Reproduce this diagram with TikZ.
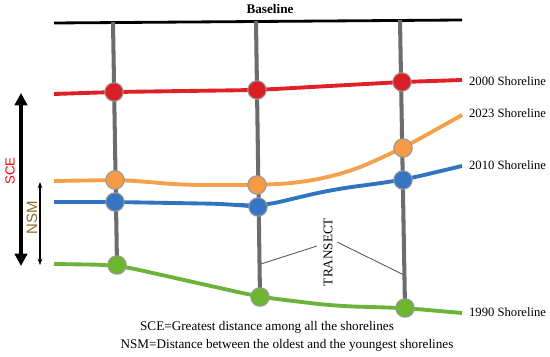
\documentclass[tikz,border=0pt]{standalone}
\usepackage{fontspec}
\setmainfont{Liberation Serif}
\setsansfont{Liberation Sans}
\usepackage{tikz}
\usetikzlibrary{arrows.meta}

\definecolor{shorered}{HTML}{E01F26}
\definecolor{shoreorange}{HTML}{F7A04B}
\definecolor{shoreblue}{HTML}{2F74C0}
\definecolor{shoregreen}{HTML}{6BB33A}
\definecolor{dotred}{HTML}{D91E26}
\definecolor{dotorange}{HTML}{F59B45}
\definecolor{dotblue}{HTML}{3575C4}
\definecolor{dotgreen}{HTML}{6DB42F}
\definecolor{nsmbrown}{HTML}{8C6A2C}

\begin{document}
\begin{tikzpicture}[x=0.02cm, y=-0.02cm,
    transect/.style={draw=gray!85!black, line width=2.3pt},
    shore/.style={line width=2.2pt, rounded corners=12pt},
    sdot/.style={circle, draw=gray!80, line width=0.6pt, minimum size=10.5pt, inner sep=0pt},
    label/.style={anchor=west, inner sep=1pt, font=\fontsize{7.2}{8}\selectfont},
  ]
  \useasboundingbox (0,0) rectangle (550,357);

  % baseline
  \coordinate (b0) at (54,23);
  \coordinate (b1) at (462,20);
  \draw[line width=1.6pt] (b0) -- (b1);
  \node[font=\fontsize{7.5}{8}\selectfont\bfseries] (base) at (270,9) {Baseline};

  % transect tops
  \coordinate (t1) at (113,22);
  \coordinate (t2) at (256,21);
  \coordinate (t3) at (400,20);

  % points on the shorelines
  \coordinate (r1) at (114,92);
  \coordinate (r2) at (257,90);
  \coordinate (r3) at (402,82);
  \coordinate (o1) at (115,180);
  \coordinate (o2) at (257,185);
  \coordinate (o3) at (403,148);
  \coordinate (u1) at (115,202);
  \coordinate (u2) at (258,207);
  \coordinate (u3) at (403,180);
  \coordinate (g1) at (117,265);
  \coordinate (g2) at (260,297);
  \coordinate (g3) at (405,308);

  % transects
  \draw[transect] (t1) -- (g1);
  \draw[transect] (t2) -- (g2);
  \draw[transect] (t3) -- (g3);

  % shorelines
  \coordinate (r0) at (54,94);
  \coordinate (r4) at (462,80);
  \draw[shore, shorered] (r0) -- (r1) -- (r2) -- (r3) -- (r4);

  \coordinate (o0) at (54,181);
  \coordinate (oa) at (140,181);
  \coordinate (ob) at (180,185);
  \coordinate (oc) at (300,183);
  \coordinate (od) at (350,172);
  \coordinate (o4) at (462,115);
  \draw[shore, shoreorange] (o0) -- (o1) -- (oa) -- (ob) -- (o2) -- (oc) -- (od) -- (o3) -- (o4);

  \coordinate (u0) at (54,202);
  \coordinate (ua) at (230,204);
  \coordinate (ub) at (330,190);
  \coordinate (u4) at (462,166);
  \draw[shore, shoreblue] (u0) -- (u1) -- (ua) -- (u2) -- (ub) -- (u3) -- (u4);

  \coordinate (g0) at (54,264);
  \coordinate (ga) at (335,306);
  \coordinate (g4) at (462,313);
  \draw[shore, shoregreen] (g0) -- (g1) -- (g2) -- (ga) -- (g3) -- (g4);

  % dots
  \node[sdot, fill=dotred] (rd1) at (r1) {};
  \node[sdot, fill=dotred] (rd2) at (r2) {};
  \node[sdot, fill=dotred] (rd3) at (r3) {};
  \node[sdot, fill=dotorange] (od1) at (o1) {};
  \node[sdot, fill=dotorange] (od2) at (o2) {};
  \node[sdot, fill=dotorange] (od3) at (o3) {};
  \node[sdot, fill=dotblue] (ud1) at (u1) {};
  \node[sdot, fill=dotblue] (ud2) at (u2) {};
  \node[sdot, fill=dotblue] (ud3) at (u3) {};
  \node[sdot, fill=dotgreen] (gd1) at (g1) {};
  \node[sdot, fill=dotgreen] (gd2) at (g2) {};
  \node[sdot, fill=dotgreen] (gd3) at (g3) {};

  % shoreline labels
  \node[label] (l2000) at (467,81) {2000 Shoreline};
  \node[label] (l2023) at (467,113) {2023 Shoreline};
  \node[label] (l2010) at (467,165) {2010 Shoreline};
  \node[label] (l1990) at (467,312) {1990 Shoreline};

  % SCE and NSM
  \coordinate (sce0) at (21,93);
  \coordinate (sce1) at (21,266);
  \draw[line width=2.4pt, {Triangle[length=7pt,width=7pt]}-{Triangle[length=7pt,width=7pt]}] (sce0) -- (sce1);
  \node[rotate=90, text=red, font=\sffamily\fontsize{7.5}{9}\selectfont] (sce) at (10,171) {SCE};

  \coordinate (nsm0) at (40,182);
  \coordinate (nsm1) at (40,265);
  \draw[line width=0.8pt, {Stealth[length=3.5pt]}-{Stealth[length=3.5pt]}] (nsm0) -- (nsm1);
  \node[rotate=90, text=nsmbrown, font=\sffamily\fontsize{8.5}{9}\selectfont] (nsm) at (32,218) {NSM};

  % transect label
  \node[rotate=90, font=\fontsize{7.5}{8}\selectfont] (tr) at (328,252) {TRANSECT};
  \coordinate (tra) at (317,246);
  \coordinate (trb) at (337,242);
  \coordinate (ta) at (261,264);
  \coordinate (tb) at (404,275);
  \draw[gray!70!black, line width=0.5pt] (tra) -- (ta);
  \draw[gray!70!black, line width=0.5pt] (trb) -- (tb);

  % legend
  \node[font=\fontsize{7.5}{8}\selectfont] (cap1) at (267,327) {SCE=Greatest distance among all the shorelines};
  \node[font=\fontsize{7.5}{8}\selectfont] (cap2) at (287,345) {NSM=Distance between the oldest and the youngest shorelines};
\end{tikzpicture}
\end{document}
